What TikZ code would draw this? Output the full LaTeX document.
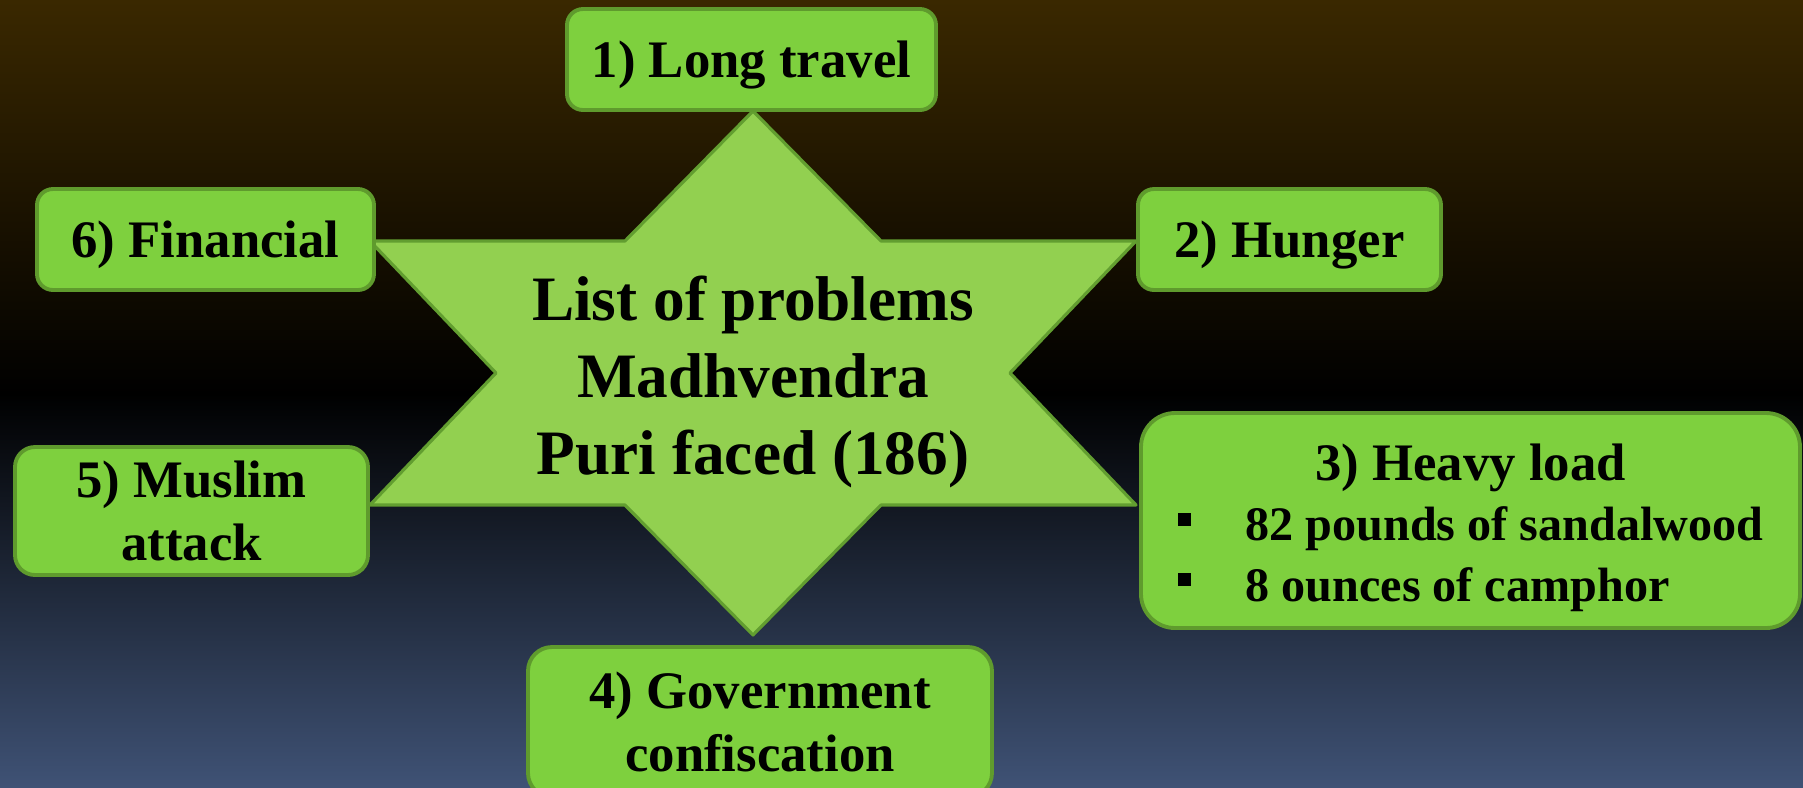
\documentclass[tikz,border=0pt]{standalone}
\usepackage{fontspec}
\setmainfont{Liberation Serif}
\usetikzlibrary{calc}

\definecolor{bgtop}{RGB}{58,40,0}
\definecolor{bgbot}{RGB}{63,82,117}
\definecolor{boxfill}{RGB}{126,208,62}
\definecolor{boxline}{RGB}{95,155,45}
\definecolor{starfill}{RGB}{146,208,80}
\definecolor{starline}{RGB}{98,158,48}

\newcommand{\sqbullet}{\rule[0.15cm]{0.13cm}{0.13cm}}

\begin{document}
\begin{tikzpicture}[
    line join=round,
    % Node Styles
    problem/.style={rectangle, draw=boxline, fill=boxfill, line width=1.1pt, rounded corners=0.16cm, align=center, inner sep=0pt, font=\fontsize{15}{18}\selectfont\bfseries},
    oneline/.style={problem, text depth=0pt, minimum height=1.01cm},
    loadbox/.style={problem, rounded corners=0.34cm, font=\fontsize{13.7}{17.2}\selectfont\bfseries},
    hub/.style={align=center, inner sep=0pt, font=\fontsize{18}{21.8}\selectfont\bfseries},
    starshape/.style={draw=starline, fill=starfill, line width=0.9pt}
]

% --- Background ---
\useasboundingbox (0,0) rectangle (18.03,-7.87);
\clip (0,0) rectangle (18.03,-7.87);
\shade[top color=bgtop, bottom color=bgbot, middle color=black] (0,0) rectangle (18.03,-7.87);

% --- 1. Central star ---
\coordinate (c) at (7.53,-3.73);
\draw[starshape] ($(c)+(0,2.62)$) -- ($(c)+(1.28,1.32)$) -- ($(c)+(3.83,1.32)$)
    -- ($(c)+(2.57,0)$) -- ($(c)+(3.83,-1.32)$) -- ($(c)+(1.28,-1.32)$)
    -- ($(c)+(0,-2.62)$) -- ($(c)+(-1.28,-1.32)$) -- ($(c)+(-3.83,-1.32)$)
    -- ($(c)+(-2.57,0)$) -- ($(c)+(-3.83,1.32)$) -- ($(c)+(-1.28,1.32)$) -- cycle;
\node[hub] (center) at ($(c)+(0,-0.09)$) {List of problems\\Madhvendra\\Puri faced (186)};

% --- 2. Problem boxes ---
\node[oneline, minimum width=3.69cm] (travel) at (7.515,-0.595) {1) Long travel};
\node[oneline, minimum width=3.03cm] (hunger) at (12.895,-2.395) {2) Hunger};
\node[loadbox, minimum width=6.59cm, minimum height=2.15cm] (load) at (14.705,-5.205) {%
  \raisebox{-0.08cm}[\height][\depth]{%
  \begin{tabular}{@{}l@{\hspace{0.55cm}}l@{}}
  \multicolumn{2}{c}{\fontsize{15}{17.2}\selectfont 3) Heavy load}\\
  \sqbullet & 82 pounds of sandalwood\\
  \sqbullet & 8 ounces of camphor
  \end{tabular}}};
\node[problem, minimum width=4.64cm, minimum height=1.50cm, rounded corners=0.24cm] (govt) at (7.60,-7.22) {4) Government\\confiscation};
\node[problem, minimum width=3.53cm, minimum height=1.28cm, rounded corners=0.2cm] (muslim) at (1.915,-5.11) {5) Muslim\\attack};
\node[oneline, minimum width=3.37cm] (money) at (2.055,-2.395) {6) Financial};

\end{tikzpicture}
\end{document}
